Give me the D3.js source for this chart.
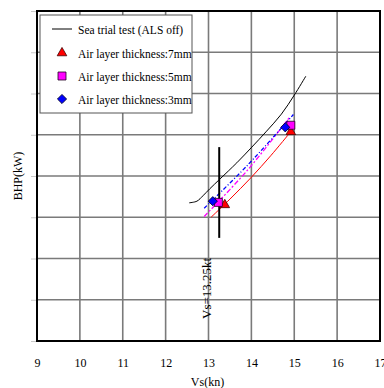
<!DOCTYPE html>
<html>
<head>
<meta charset="utf-8">
<script src="https://cdn.jsdelivr.net/npm/d3@7"></script>
<style>
  body { margin: 0; background: #fff; }
  text { font-family: "Liberation Serif", "DejaVu Serif", serif; }
</style>
</head>
<body>
<div id="chart"></div>
<script>
// speed ticks (kn) and BHP grid (no labels printed in the original)
const xTicks = [9, 10, 11, 12, 13, 14, 15, 16, 17];
const yTicks = [0, 1, 2, 3, 4, 5, 6, 7, 8];

// sea trial curve, ALS off
const seaTrial = [
  [12.55, 3.35], [12.73, 3.39], [12.87, 3.52], [13.03, 3.69], [13.27, 3.93],
  [13.66, 4.32], [14.01, 4.70], [14.34, 5.07], [14.70, 5.50], [15.00, 5.96],
  [15.27, 6.42]
];
// fitted lines per air layer thickness
const fit7 = [[13.06, 3.00], [13.50, 3.44], [14.00, 3.97], [14.45, 4.49], [14.90, 5.05]];
const fit5 = [[12.90, 3.02], [13.90, 4.13], [14.88, 5.41]];
const fit3 = [[12.90, 3.22], [13.90, 4.25], [14.98, 5.49]];
// measured points
const pts7 = [[13.38, 3.30], [14.92, 5.07]];
const pts5 = [[13.23, 3.36], [14.92, 5.23]];
const pts3 = [[13.10, 3.39], [14.79, 5.18]];

const vsMark = 13.25;
const vsRange = [2.50, 4.70];

const width = 384, height = 388;
const margin = {left: 37, top: 11, right: 4, bottom: 47};
const serif = '"Liberation Serif", "DejaVu Serif", serif';

const svg = d3.select('#chart').append('svg')
  .attr('width', width)
  .attr('height', height);

const x = d3.scaleLinear().domain([9, 17]).range([margin.left, width - margin.right]);
const y = d3.scaleLinear().domain([0, 8]).range([height - margin.bottom, margin.top]);

// grid
svg.append('g').selectAll('line')
  .data(xTicks.slice(1, -1))
  .enter().append('line')
  .attr('x1', d => x(d)).attr('x2', d => x(d))
  .attr('y1', y(0)).attr('y2', y(8))
  .attr('stroke', '#7a7a7a').attr('stroke-width', 1.6);

svg.append('g').selectAll('line')
  .data(yTicks.slice(1, -1))
  .enter().append('line')
  .attr('x1', x(9)).attr('x2', x(17))
  .attr('y1', d => y(d)).attr('y2', d => y(d))
  .attr('stroke', '#7a7a7a').attr('stroke-width', 1.6);

// faint y ticks, no labels
svg.append('g')
  .attr('transform', 'translate(' + (x(9) - 1) + ',0)')
  .call(d3.axisLeft(y).tickValues(yTicks).tickSize(5).tickFormat(''))
  .call(g => g.select('.domain').remove())
  .call(g => g.selectAll('line').attr('stroke', '#c8c8c8'));

// x tick labels
svg.append('g')
  .attr('transform', 'translate(0,' + (y(0) + 14) + ')')
  .call(d3.axisBottom(x).tickValues(xTicks).tickSize(0).tickFormat(d3.format('d')))
  .attr('font-family', serif)
  .call(g => g.select('.domain').remove())
  .call(g => g.selectAll('text')
    .attr('font-size', 12).attr('fill', '#000'));

// frame
svg.append('rect')
  .attr('x', x(9)).attr('y', y(8))
  .attr('width', x(17) - x(9)).attr('height', y(0) - y(8))
  .attr('fill', 'none').attr('stroke', '#000').attr('stroke-width', 2);

const curve = d3.line().x(d => x(d[0])).y(d => y(d[1])).curve(d3.curveCatmullRom);

svg.append('path').datum(seaTrial).attr('d', curve)
  .attr('fill', 'none').attr('stroke', '#000').attr('stroke-width', 1);
svg.append('path').datum(fit7).attr('d', curve)
  .attr('fill', 'none').attr('stroke', '#ff0000').attr('stroke-width', 1);
svg.append('path').datum(fit5).attr('d', curve)
  .attr('fill', 'none').attr('stroke', '#ff00ff').attr('stroke-width', 1.3)
  .attr('stroke-dasharray', '5,2,2,2');
svg.append('path').datum(fit3).attr('d', curve)
  .attr('fill', 'none').attr('stroke', '#0000ff').attr('stroke-width', 1.3)
  .attr('stroke-dasharray', '4,2,1,2');

// Vs = 13.25 marker line
svg.append('line')
  .attr('x1', x(vsMark)).attr('x2', x(vsMark))
  .attr('y1', y(vsRange[0])).attr('y2', y(vsRange[1]))
  .attr('stroke', '#000').attr('stroke-width', 2);
svg.append('text')
  .attr('transform', 'translate(' + (x(vsMark) - 8) + ',' + 319 + ') rotate(-90)')
  .attr('font-family', serif)
  .attr('font-size', 13)
  .text('Vs=13.25kt');

const tri = d3.symbol(d3.symbolTriangle, 40);
const sq = d3.symbol(d3.symbolSquare, 64);
const dia = d3.symbol(d3.symbolSquare, 42);

svg.append('g').selectAll('path')
  .data(pts7).enter().append('path')
  .attr('d', tri)
  .attr('transform', d => 'translate(' + x(d[0]) + ',' + y(d[1]) + ')')
  .attr('fill', '#ff0000').attr('stroke', '#400').attr('stroke-width', 0.8);
svg.append('g').selectAll('path')
  .data(pts5).enter().append('path')
  .attr('d', sq)
  .attr('transform', d => 'translate(' + x(d[0]) + ',' + y(d[1]) + ')')
  .attr('fill', '#ff00ff').attr('stroke', '#202').attr('stroke-width', 0.8);
svg.append('g').selectAll('path')
  .data(pts3).enter().append('path')
  .attr('d', dia)
  .attr('transform', d => 'translate(' + x(d[0]) + ',' + y(d[1]) + ') rotate(45)')
  .attr('fill', '#0000ff').attr('stroke', '#002').attr('stroke-width', 0.8);

// axis titles
svg.append('text')
  .attr('x', (x(9) + x(17)) / 2 - 1).attr('y', 386)
  .attr('text-anchor', 'middle').attr('font-size', 12)
  .attr('font-family', serif)
  .text('Vs(kn)');
svg.append('text')
  .attr('transform', 'translate(22,' + 176 + ') rotate(-90)')
  .attr('text-anchor', 'middle').attr('font-size', 12)
  .attr('font-family', serif)
  .text('BHP(kW)');

// legend
const legend = svg.append('g').attr('transform', 'translate(40,15)');
legend.append('rect')
  .attr('width', 152).attr('height', 98)
  .attr('fill', '#fff').attr('stroke', '#555').attr('stroke-width', 1);

const legendItems = [
  {label: 'Sea trial test (ALS off)', type: 'line'},
  {label: 'Air layer thickness:7mm', type: 'tri'},
  {label: 'Air layer thickness:5mm', type: 'sq'},
  {label: 'Air layer thickness:3mm', type: 'dia'}
];
const rowY = [14, 38, 61, 84];

legendItems.forEach((d, i) => {
  const g = legend.append('g').attr('transform', 'translate(0,' + rowY[i] + ')');
  if (d.type === 'line') {
    g.append('line').attr('x1', 12).attr('x2', 32).attr('y1', 0).attr('y2', 0)
      .attr('stroke', '#000').attr('stroke-width', 1);
  } else if (d.type === 'tri') {
    g.append('path').attr('d', tri).attr('transform', 'translate(22,0)')
      .attr('fill', '#ff0000').attr('stroke', '#400').attr('stroke-width', 0.8);
  } else if (d.type === 'sq') {
    g.append('path').attr('d', sq).attr('transform', 'translate(22,0)')
      .attr('fill', '#ff00ff').attr('stroke', '#202').attr('stroke-width', 0.8);
  } else {
    g.append('path').attr('d', dia).attr('transform', 'translate(22,0) rotate(45)')
      .attr('fill', '#0000ff').attr('stroke', '#002').attr('stroke-width', 0.8);
  }
  g.append('text').attr('x', 38).attr('y', 4.5)
    .attr('font-family', serif)
    .attr('font-size', 11.5).text(d.label);
});
</script>
</body>
</html>
